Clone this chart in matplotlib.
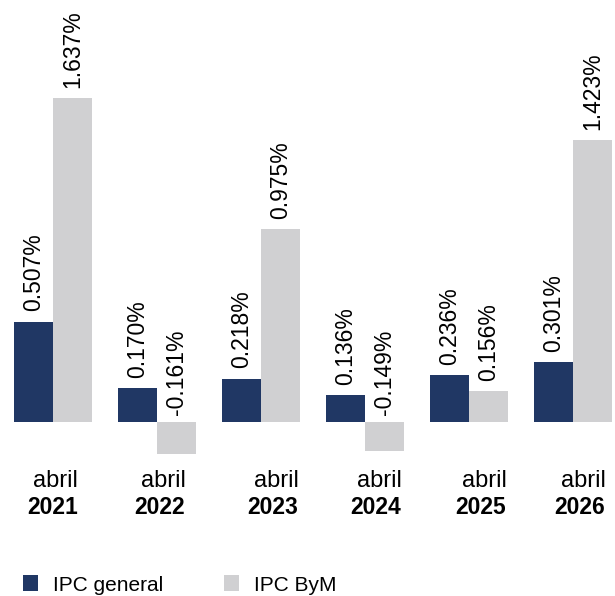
import matplotlib
matplotlib.use("Agg")
import matplotlib.pyplot as plt
from matplotlib.patches import Patch
import numpy as np

plt.rcParams['font.family'] = ['Liberation Sans', 'DejaVu Sans']

months = ["abril"] * 6
years = ["2021", "2022", "2023", "2024", "2025", "2026"]
ipc_general = [0.507, 0.170, 0.218, 0.136, 0.236, 0.301]
ipc_bym = [1.637, -0.161, 0.975, -0.149, 0.156, 1.423]
series_names = ["IPC general", "IPC ByM"]

NAVY = "#203764"
GRAY = "#d0d0d2"

W, H = 615, 596
fig = plt.figure(figsize=(W / 100, H / 100), dpi=100)
ax = fig.add_axes([0, 0, 1, 1])
ax.axis("off")

x = np.arange(len(years))
w = 0.375
ax.bar(x - w / 2, ipc_general, w, color=NAVY)
ax.bar(x + w / 2, ipc_bym, w, color=GRAY)

for xs, vals in ((x - w / 2, ipc_general), (x + w / 2, ipc_bym)):
    for xi, v in zip(xs, vals):
        ax.annotate(f"{v:.3f}%", (xi, max(v, 0)), xytext=(0, 7.5 if v > 0 else 5),
                    textcoords="offset points",
                    rotation=90, ha="center", va="bottom", fontsize=16.5)

ppu = (422 - 98) / 1.637
ax.set_ylim(-(H - 422) / ppu, 422 / ppu)
ax.set_xlim(-53 / 104, (W - 53) / 104)

# label centres (pixels) for the two-line category labels
label_px = [52.5, 160, 273, 376, 481, 580]
for px, m, y in zip(label_px, months, years):
    ax.text((px + 3) / W, 1 - 481 / H, m, transform=ax.transAxes, ha="center", va="center",
            fontsize=17)
    ax.text(px / W, 1 - 508 / H, y, transform=ax.transAxes, ha="center", va="center",
            fontsize=16.5, fontweight="bold")

handles = [Patch(facecolor=NAVY), Patch(facecolor=GRAY)]
fig.legend(handles, series_names, loc="center left", bbox_to_anchor=(23 / W, 1 - 585 / H), ncol=2,
           frameon=False, fontsize=15, handlelength=0.72, handleheight=0.77,
           handletextpad=0.72, columnspacing=2.9, borderpad=0, borderaxespad=0)

fig.savefig("out.png", dpi=100)
